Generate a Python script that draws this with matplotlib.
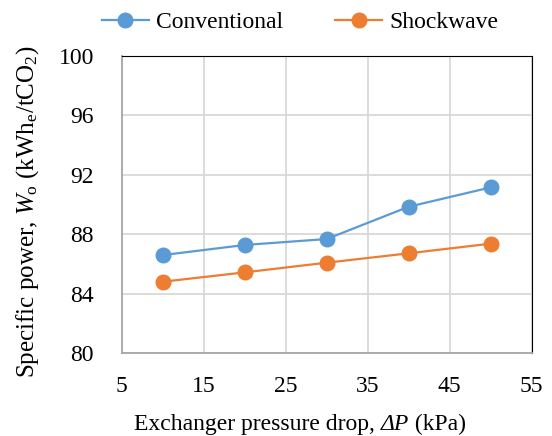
import matplotlib
matplotlib.use("Agg")
import matplotlib.pyplot as plt
from matplotlib.offsetbox import TextArea, HPacker, AnnotationBbox

pressure_drop = [10, 20, 30, 40, 50]
conventional = [86.6, 87.28, 87.68, 89.85, 91.15]
shockwave = [84.81, 85.44, 86.09, 86.72, 87.37]
x_ticks = [5, 15, 25, 35, 45, 55]
y_ticks = [80, 84, 88, 92, 96, 100]

plt.rcParams['font.family'] = ['Liberation Serif', 'DejaVu Serif']
plt.rcParams['mathtext.fontset'] = 'custom'
plt.rcParams['mathtext.rm'] = 'Liberation Serif'
plt.rcParams['mathtext.it'] = 'Liberation Serif:italic'

fig = plt.figure(figsize=(5.52, 4.36), dpi=100)
ax = fig.add_axes([0.2205, 0.1897, 0.9632 - 0.2205, 0.8722 - 0.1897])

ax.plot(pressure_drop, conventional, color='#5B9BD5', lw=1.6, marker='o', ms=10.5, label='Conventional')
ax.plot(pressure_drop, shockwave, color='#ED7D31', lw=1.6, marker='o', ms=10.5, label='Shockwave')

ax.set_xlim(5, 55)
ax.set_ylim(80, 100)
ax.set_xticks(x_ticks)
ax.set_yticks(y_ticks)
ax.grid(True, color='#d9d9d9', lw=1.3)
ax.set_axisbelow(True)
ax.tick_params(length=0, labelsize=17)
ax.tick_params(axis='y', pad=20)
ax.tick_params(axis='x', pad=16)

for s in ['left', 'bottom']:
    ax.spines[s].set_color('#a6a6a6')
    ax.spines[s].set_linewidth(1.3)
for s in ['top', 'right']:
    ax.spines[s].set_color('black')
    ax.spines[s].set_linewidth(0.8)

# x label with italic ΔP
fs = 17
parts = [TextArea('Exchanger pressure drop, ', textprops=dict(fontsize=fs)),
         TextArea('ΔP', textprops=dict(fontsize=fs, fontstyle='italic')),
         TextArea(' (kPa)', textprops=dict(fontsize=fs))]
box = HPacker(children=parts, align='baseline', pad=0, sep=0)
ab = AnnotationBbox(box, (0.435, -0.24), xycoords='axes fraction', frameon=False,
                    box_alignment=(0.5, 0.5), annotation_clip=False)
ax.add_artist(ab)

ax.set_ylabel(r'Specific power, $\mathit{W}_{\rm o}$ (kWh$_{\rm e}$/tCO$_2$)', fontsize=18)
ax.yaxis.set_label_coords(-0.196, 0.476)

ax.legend(loc='lower center', bbox_to_anchor=(0.435, 1.005), ncol=2, frameon=False,
          fontsize=17, handlelength=2.0, columnspacing=2.2, handletextpad=0.3)

fig.savefig('out.png', dpi=100)
